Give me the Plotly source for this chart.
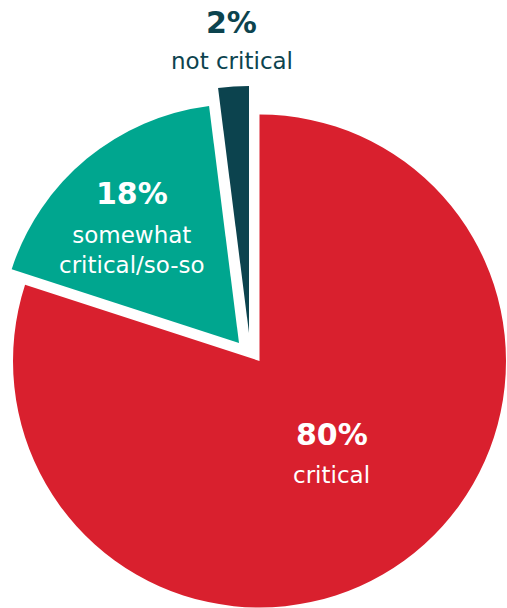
import plotly.graph_objects as go

# Survey shares
categories = ["critical", "somewhat critical/so-so", "not critical"]
shares = [80, 18, 2]
percent_labels = ["80%", "18%", "2%"]
desc_labels = ["critical", "somewhat<br>critical/so-so", "not critical"]

colors = ["#D9202E", "#00A68F", "#0C434E"]
CLEAR = "rgba(0,0,0,0)"

W, H = 507, 608


def px_box(cx, cy, r):
    """Square pie domain (paper fractions) for a pie centred at pixel (cx, cy)."""
    return dict(
        x=[(cx - r) / W, (cx + r) / W],
        y=[1 - (cy + r) / H, 1 - (cy - r) / H],
    )


# Each slice gets its own trace so it can be offset (exploded) individually
slice_boxes = [
    px_box(259.5, 361, 246.5),
    px_box(239, 343, 239),
    px_box(249, 333, 247),
]

fig = go.Figure()
for i, box in enumerate(slice_boxes):
    fig.add_trace(go.Pie(
        labels=categories,
        values=shares,
        sort=False,
        direction="clockwise",
        rotation=0,
        marker=dict(
            colors=[colors[j] if j == i else CLEAR for j in range(len(shares))],
            line=dict(width=0),
        ),
        textinfo="none",
        hoverinfo="skip",
        domain=box,
        showlegend=False,
    ))

num_font = dict(family="DejaVu Sans", size=30, weight="bold")
txt_font = dict(family="DejaVu Sans", size=23)

# label anchors in pixels: (x, y of percent, y of description)
label_pos = [
    (331.5, 434, 475, "white"),
    (131.5, 194, 250, "white"),
    (231.5, 23, 61, "#0C434E"),
]

for pct, desc, (x, yp, yd, col) in zip(percent_labels, desc_labels, label_pos):
    fig.add_annotation(x=x / W, y=1 - yp / H, xref="paper", yref="paper",
                       text=pct, showarrow=False, xanchor="center", yanchor="middle",
                       font=dict(color=col, **num_font))
    fig.add_annotation(x=x / W, y=1 - yd / H, xref="paper", yref="paper",
                       text=desc, showarrow=False, xanchor="center", yanchor="middle",
                       font=dict(color=col, **txt_font))

fig.update_layout(
    width=W, height=H,
    margin=dict(l=0, r=0, t=0, b=0),
    paper_bgcolor="white",
    plot_bgcolor="white",
    showlegend=False,
)

fig.write_html("out.html")
